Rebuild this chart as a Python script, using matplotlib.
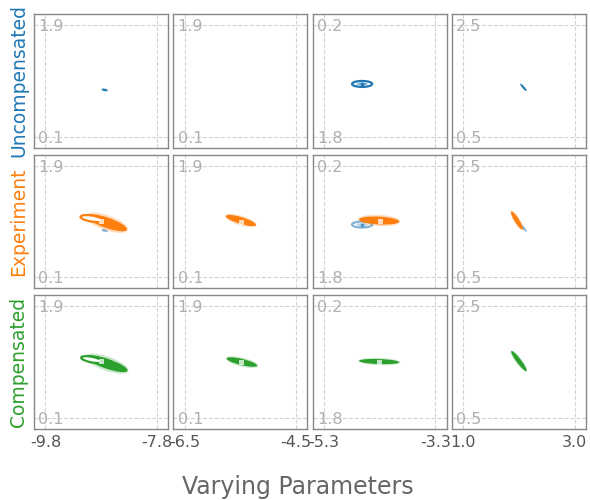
import matplotlib
matplotlib.use('Agg')
import matplotlib.pyplot as plt
from matplotlib.patches import Ellipse

# rows / series
row_names = ['Uncompensated', 'Experiment', 'Compensated']
row_colors = ['#1f77b4', '#ff7f0e', '#2ca02c']

# per-column axis ticks
x_ticks = [[-9.8, -7.8], [-6.5, -4.5], [-5.3, -3.3], [1.0, 3.0]]
y_ticks = [[0.1, 1.9], [0.1, 1.9], [-1.8, 0.2], [0.5, 2.5]]
x_ticklabels = [['-9.8', '-7.8'], ['-6.5', '-4.5'], ['-5.3', '-3.3'], ['1.0', '3.0']]
y_ticklabels = [['0.1', '1.9'], ['0.1', '1.9'], ['1.8', '0.2'], ['0.5', '2.5']]

# point clouds summarised as ellipses: (centre x, centre y, width, height, angle)
unc_cloud = [(-8.737, 0.855, 0.11, 0.035, -10), None,
             (-4.615, -0.854, 0.20, 0.04, 0), (2.081, 1.384, 0.17, 0.035, -49)]
unc_ring = [None, None, (-4.615, -0.854, 0.36, 0.107, 0), None]
unc_centre = [None, None, (-4.615, -0.854), None]

exp_cloud = [(-8.70, 0.98, 0.76, 0.17, -17), (-5.491, 1.016, 0.56, 0.11, -15),
             (-4.309, -0.782, 0.72, 0.14, -3), (1.964, 1.518, 0.38, 0.08, -58)]
exp_ring = [(-8.971, 1.048, 0.40, 0.097, -8), None, None, None]
exp_centre = [(-8.809, 1.016), (-5.491, 1.0), (-4.291, -0.80), None]

cmp_cloud = [(-8.70, 0.975, 0.78, 0.16, -17), (-5.473, 1.0, 0.56, 0.10, -12),
             (-4.309, -0.791, 0.72, 0.09, -2), (2.0, 1.518, 0.45, 0.08, -53)]
cmp_ring = [(-8.97, 1.04, 0.38, 0.09, -10), None, None, None]
cmp_centre = [(-8.809, 1.016), (-5.49, 1.0), (-4.31, -0.79), None]

series = [(unc_cloud, unc_ring, unc_centre),
          (exp_cloud, exp_ring, exp_centre),
          (cmp_cloud, cmp_ring, cmp_centre)]


def draw(ax, j, data, color, faded=False):
    cloud, ring, centre = data
    a = 0.55 if faded else 1.0
    c, r = cloud[j], ring[j]
    # cloud sitting inside its own ring -> faint points, ring drawn on top without fill
    inside = c is not None and r is not None and abs(c[0] - r[0]) < 1e-6
    if c is not None:
        cx, cy, w, h, ang = c
        ax.add_patch(Ellipse((cx, cy), w * 1.04, h * 1.45, angle=ang,
                             facecolor=color, edgecolor='none', alpha=0.25 * a))
        ax.add_patch(Ellipse((cx, cy), w, h, angle=ang, facecolor=color,
                             edgecolor='none', alpha=(0.4 if inside else 1.0) * a))
    if r is not None:
        cx, cy, w, h, ang = r
        ax.add_patch(Ellipse((cx, cy), w, h, angle=ang,
                             facecolor='none' if inside else 'white',
                             edgecolor=color, linewidth=1.6, alpha=a))
    p = centre[j]
    if p is not None and not faded and not inside:
        ax.plot(p[0], p[1], marker='s', markersize=3.5, mfc=(1, 1, 1, 0.7),
                mec=(1, 1, 1, 0.9), mew=0.5, zorder=5)
    elif p is not None:
        ax.plot(p[0], p[1], marker='o', markersize=1.8, color=color, alpha=a)


fig, axes = plt.subplots(3, 4, figsize=(5.9, 5.0), dpi=100)
fig.subplots_adjust(left=0.058, right=0.993, top=0.972, bottom=0.142,
                    wspace=0.04, hspace=0.05)

for i in range(3):
    for j in range(4):
        ax = axes[i, j]
        x0, x1 = x_ticks[j]
        y0, y1 = y_ticks[j]
        dx, dy = 0.1 * (x1 - x0), 0.1 * (y1 - y0)
        ax.set_xlim(x0 - dx, x1 + dx)
        ax.set_ylim(y0 - dy, y1 + dy)
        ax.set_xticks(x_ticks[j])
        ax.set_yticks(y_ticks[j])
        ax.set_yticklabels(y_ticklabels[j])
        if i == 2:
            ax.set_xticklabels(x_ticklabels[j])
        else:
            ax.set_xticklabels([])
        ax.tick_params(axis='x', length=0, pad=4, labelsize=11.5, labelcolor='#555555')
        ax.tick_params(axis='y', length=0, pad=-3, labelsize=11.5, labelcolor='#b0b0b0')
        for lab in ax.get_yticklabels():
            lab.set_horizontalalignment('left')
        ax.grid(True, color='#d3d3d3', linestyle='--', linewidth=0.8)
        ax.set_axisbelow(True)
        for s in ax.spines.values():
            s.set_color('#888888')
            s.set_linewidth(1.0)

        if i == 1:
            draw(ax, j, series[0], row_colors[0], faded=True)
            draw(ax, j, series[1], row_colors[1])
        else:
            draw(ax, j, series[i], row_colors[i])

    pos = axes[i, 0].get_position()
    fig.text(0.032, (pos.y0 + pos.y1) / 2, row_names[i], rotation=90,
             ha='center', va='center', fontsize=13.5, color=row_colors[i])

fig.text(0.505, 0.026, 'Varying Parameters', ha='center', va='center',
         fontsize=17, color='#666666')

plt.savefig('out.png', dpi=100)
